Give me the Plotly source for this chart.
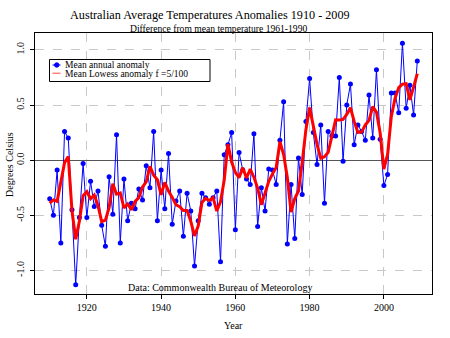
import numpy as np
import plotly.graph_objects as go

years = list(range(1910, 2010))
anomaly = [
    -0.35, -0.50, -0.09, -0.75, 0.26, 0.20, -0.45, -1.13, -0.52, -0.03,   # 1910s
    -0.52, -0.19, -0.42, -0.28, -0.59, -0.78, -0.15, -0.49, 0.23, -0.75,  # 1920s
    -0.17, -0.55, -0.39, -0.44, -0.26, -0.36, -0.05, -0.25, 0.26, -0.55,  # 1930s
    -0.09, -0.44, 0.06, -0.58, -0.37, -0.28, -0.69, -0.30, -0.46, -0.96,  # 1940s
    -0.55, -0.30, -0.34, -0.40, -0.34, -0.28, -0.92, 0.05, 0.14, 0.25,   # 1950s
    -0.63, 0.07, -0.09, -0.17, -0.22, 0.24, -0.60, -0.25, -0.46, -0.08,  # 1960s
    -0.09, -0.22, 0.18, 0.53, -0.76, -0.22, -0.71, 0.02, -0.31, 0.35,    # 1970s
    0.74, 0.25, -0.04, 0.32, -0.39, 0.26, 0.22, 0.22, 0.75, -0.01,       # 1980s
    0.50, 0.69, 0.14, 0.32, 0.26, 0.18, 0.59, 0.20, 0.82, 0.19,          # 1990s
    -0.23, -0.13, 0.61, 0.61, 0.43, 1.06, 0.47, 0.68, 0.41, 0.90,        # 2000s
]
x_ticks = [1920, 1940, 1960, 1980, 2000]
y_ticks = [-1.0, -0.5, 0.0, 0.5, 1.0]
y_tick_labels = ["-1.0", "-0.5", "0.0", "0.5", "1.0"]
lowess_f = 5 / 100


def lowest(x, y, n, xs, nleft, nright, userw, rw):
    rng = x[-1] - x[0]
    h = max(xs - x[nleft], x[nright] - xs)
    h9, h1 = 0.999 * h, 0.001 * h
    w = np.zeros(n)
    a = 0.0
    j = nleft
    while j < n:
        r = abs(x[j] - xs)
        if r <= h9:
            w[j] = 1.0 if r <= h1 else (1 - (r / h) ** 3) ** 3
            if userw:
                w[j] *= rw[j]
            a += w[j]
        elif x[j] > xs:
            break
        j += 1
    nrt = j - 1
    if a <= 0:
        return 0.0, False
    idx = slice(nleft, nrt + 1)
    w[idx] /= a
    if h > 0:
        a = np.sum(w[idx] * x[idx])
        b = xs - a
        c = np.sum(w[idx] * (x[idx] - a) ** 2)
        if np.sqrt(c) > 0.001 * rng:
            b /= c
            w[idx] *= (b * (x[idx] - a) + 1.0)
    return float(np.sum(w[idx] * y[idx])), True


def lowess(xv, yv, f=2 / 3, iters=3):
    x = np.asarray(xv, float)
    y = np.asarray(yv, float)
    n = len(x)
    delta = 0.01 * (x[-1] - x[0])
    ns = max(2, min(n, int(f * n + 1e-7)))
    ys = np.zeros(n)
    rw = np.ones(n)
    for it in range(iters + 1):
        nleft, nright, last, i = 0, ns - 1, -1, 0
        while True:
            while nright < n - 1:
                d1 = x[i] - x[nleft]
                d2 = x[nright + 1] - x[i]
                if d1 <= d2:
                    break
                nleft += 1
                nright += 1
            val, ok = lowest(x, y, n, x[i], nleft, nright, it > 0, rw)
            ys[i] = val if ok else y[i]
            if last < i - 1:
                denom = x[i] - x[last]
                for j in range(last + 1, i):
                    alpha = (x[j] - x[last]) / denom
                    ys[j] = alpha * ys[i] + (1 - alpha) * ys[last]
            last = i
            cut = x[last] + delta
            i = last + 1
            while i < n:
                if x[i] > cut:
                    break
                if x[i] == x[last]:
                    ys[i] = ys[last]
                    last = i
                i += 1
            i = max(last + 1, i - 1)
            if last >= n - 1:
                break
        res = y - ys
        if it >= iters:
            break
        sc = np.mean(np.abs(res))
        r = np.abs(res)
        cmad = 6 * np.median(r)
        if cmad < 1e-7 * sc:
            break
        c9, c1 = 0.999 * cmad, 0.001 * cmad
        rw = np.where(r <= c1, 1.0, np.where(r <= c9, (1 - (r / cmad) ** 2) ** 2, 0.0))
    return ys


smooth = lowess(years, anomaly, f=lowess_f, iters=3)

FONT = "Liberation Serif, Times New Roman, serif"
W, H = 450, 338
L, R, T, B = 35, 432, 33, 294


def px(xp):
    return (xp - L) / (R - L)


def py(yp):
    return (B - yp) / (B - T)


fig = go.Figure()
fig.add_trace(go.Scatter(
    x=years, y=anomaly, mode="lines+markers",
    line=dict(color="#0000ff", width=1),
    marker=dict(color="#0000ff", size=5),
    name="Mean annual anomaly", showlegend=False,
))
fig.add_trace(go.Scatter(
    x=years, y=smooth, mode="lines",
    line=dict(color="#ff0000", width=3),
    name="Mean Lowess anomaly f =5/100", showlegend=False,
))

shapes = [
    dict(type="rect", xref="paper", yref="paper",
         x0=px(49.5), x1=px(210), y0=py(81.5), y1=py(59.5),
         line=dict(color="black", width=1), fillcolor="white", layer="above"),
    dict(type="line", xref="paper", yref="paper",
         x0=px(52.5), x1=px(60.5), y0=py(65), y1=py(65),
         line=dict(color="#0000ff", width=1), layer="above"),
    dict(type="circle", xref="paper", yref="paper",
         x0=px(54.5), x1=px(59), y0=py(67.2), y1=py(62.8),
         line=dict(color="#0000ff", width=1), fillcolor="#0000ff", layer="above"),
    dict(type="line", xref="paper", yref="paper",
         x0=px(52.5), x1=px(60.5), y0=py(73.3), y1=py(73.3),
         line=dict(color="#ff8080", width=1.5), layer="above"),
]

annotations = [
    dict(text="Australian Average Temperatures Anomalies 1910 - 2009",
         xref="paper", yref="paper", x=px(210), y=py(15), showarrow=False,
         xanchor="center", yanchor="middle", font=dict(family=FONT, size=12.2, color="black")),
    dict(text="Difference from mean temperature 1961-1990",
         xref="paper", yref="paper", x=px(218), y=py(28), showarrow=False,
         xanchor="center", yanchor="middle", font=dict(family=FONT, size=9.6, color="black")),
    dict(text="Mean annual anomaly", xref="paper", yref="paper",
         x=px(62.5), y=py(65), showarrow=False, xanchor="left", yanchor="middle",
         font=dict(family=FONT, size=9.5, color="black")),
    dict(text="Mean Lowess anomaly f =5/100", xref="paper", yref="paper",
         x=px(62.5), y=py(74), showarrow=False, xanchor="left", yanchor="middle",
         font=dict(family=FONT, size=9.5, color="black")),
    dict(text="Data: Commonwealth Bureau of Meteorology", xref="paper", yref="paper",
         x=px(220), y=py(287), showarrow=False, xanchor="center", yanchor="middle",
         font=dict(family=FONT, size=10, color="black")),
    dict(text="Year", xref="paper", yref="paper",
         x=px(233.5), y=py(325), showarrow=False, xanchor="center", yanchor="middle",
         font=dict(family=FONT, size=10, color="black")),
    dict(text="Degrees Celsius", xref="paper", yref="paper", textangle=-90,
         x=px(9), y=py(165), showarrow=False, xanchor="center", yanchor="middle",
         font=dict(family=FONT, size=10, color="black")),
]

fig.update_layout(
    width=W, height=H,
    margin=dict(l=L, r=W - R, t=T, b=H - B, pad=0, autoexpand=False),
    paper_bgcolor="white", plot_bgcolor="white",
    font=dict(family=FONT, size=10, color="black"),
    shapes=shapes, annotations=annotations, showlegend=False,
)
fig.update_xaxes(
    range=[1906.04, 2012.96], tickvals=x_ticks, ticktext=[str(v) for v in x_ticks],
    showgrid=True, gridcolor="#c8c8c8", griddash="dash", gridwidth=1,
    showline=True, linecolor="black", linewidth=1, mirror=True, automargin=False,
    ticks="outside", ticklen=4, tickcolor="black", zeroline=False,
    tickfont=dict(family=FONT, size=10),
)
fig.update_yaxes(
    range=[-1.2128, 1.1528], tickvals=y_ticks, ticktext=y_tick_labels, tickangle=-90,
    showgrid=True, gridcolor="#c8c8c8", griddash="dash", gridwidth=1,
    showline=True, linecolor="black", linewidth=1, mirror=True, automargin=False,
    ticks="outside", ticklen=4, tickcolor="black", ticklabelstandoff=2,
    zeroline=True, zerolinecolor="#555555", zerolinewidth=1,
    tickfont=dict(family=FONT, size=10),
)

fig.write_html("out.html")
